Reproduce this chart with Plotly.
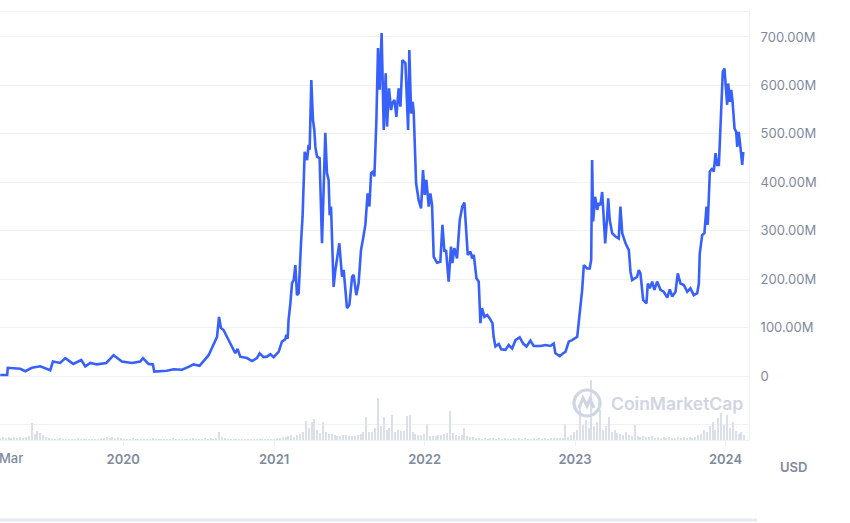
import pandas as pd
import plotly.graph_objects as go

# ---- price (market cap) series: decimal year, value in millions USD ----
price_year = [
    2019.183, 2019.229, 2019.233, 2019.316, 2019.349, 2019.393, 2019.449, 2019.515, 2019.533, 2019.581,
    2019.615, 2019.668, 2019.721, 2019.748, 2019.781, 2019.825, 2019.887, 2019.936, 2019.991, 2020.058,
    2020.113, 2020.131, 2020.168, 2020.197, 2020.206, 2020.290, 2020.334, 2020.390, 2020.434, 2020.467,
    2020.507, 2020.534, 2020.567, 2020.589, 2020.611, 2020.623, 2020.636, 2020.649, 2020.666, 2020.689,
    2020.711, 2020.744, 2020.759, 2020.777, 2020.822, 2020.855, 2020.888, 2020.906, 2020.932, 2020.955,
    2020.977, 2020.999, 2021.032, 2021.054, 2021.076, 2021.083, 2021.092, 2021.098, 2021.110, 2021.121,
    2021.132, 2021.143, 2021.154, 2021.165, 2021.181, 2021.191, 2021.205, 2021.221, 2021.231, 2021.238,
    2021.249, 2021.260, 2021.269, 2021.276, 2021.287, 2021.304, 2021.320, 2021.331, 2021.342, 2021.353,
    2021.364, 2021.371, 2021.380, 2021.397, 2021.409, 2021.435, 2021.453, 2021.464, 2021.486, 2021.502,
    2021.520, 2021.530, 2021.548, 2021.563, 2021.579, 2021.593, 2021.608, 2021.623, 2021.635, 2021.646,
    2021.659, 2021.668, 2021.681, 2021.692, 2021.703, 2021.716, 2021.730, 2021.743, 2021.752, 2021.765,
    2021.779, 2021.787, 2021.801, 2021.814, 2021.829, 2021.841, 2021.854, 2021.874, 2021.892, 2021.900,
    2021.912, 2021.922, 2021.929, 2021.945, 2021.962, 2021.978, 2021.991, 2022.002, 2022.013, 2022.029,
    2022.040, 2022.051, 2022.062, 2022.084, 2022.106, 2022.120, 2022.133, 2022.144, 2022.161, 2022.177,
    2022.186, 2022.199, 2022.217, 2022.235, 2022.252, 2022.266, 2022.288, 2022.306, 2022.317, 2022.328,
    2022.346, 2022.361, 2022.372, 2022.383, 2022.399, 2022.417, 2022.434, 2022.452, 2022.460, 2022.472,
    2022.494, 2022.510, 2022.538, 2022.560, 2022.583, 2022.605, 2022.633, 2022.656, 2022.678, 2022.704,
    2022.726, 2022.771, 2022.804, 2022.837, 2022.859, 2022.870, 2022.899, 2022.922, 2022.937, 2022.959,
    2022.981, 2023.015, 2023.032, 2023.048, 2023.059, 2023.081, 2023.098, 2023.108, 2023.114, 2023.121,
    2023.134, 2023.148, 2023.158, 2023.169, 2023.181, 2023.191, 2023.201, 2023.214, 2023.221, 2023.231,
    2023.247, 2023.269, 2023.291, 2023.302, 2023.314, 2023.336, 2023.358, 2023.369, 2023.380, 2023.413,
    2023.424, 2023.435, 2023.453, 2023.475, 2023.484, 2023.497, 2023.513, 2023.528, 2023.546, 2023.568,
    2023.590, 2023.613, 2023.630, 2023.646, 2023.668, 2023.683, 2023.701, 2023.723, 2023.746, 2023.767,
    2023.789, 2023.812, 2023.823, 2023.829, 2023.845, 2023.860, 2023.874, 2023.882, 2023.896, 2023.912,
    2023.922, 2023.934, 2023.945, 2023.956, 2023.967, 2023.982, 2023.993, 2024.002, 2024.011, 2024.018,
    2024.029, 2024.038, 2024.047, 2024.060, 2024.071, 2024.078, 2024.088, 2024.100, 2024.111, 2024.118,
]
price_musd = [
    2, 2, 17, 15, 10, 17, 20, 12, 30, 27,
    37, 25, 33, 20, 27, 24, 27, 43, 30, 27,
    30, 37, 25, 24, 9, 11, 14, 13, 19, 24,
    21, 31, 43, 58, 74, 81, 122, 99, 95, 81,
    68, 47, 56, 40, 37, 31, 37, 47, 39, 40,
    45, 39, 50, 71, 76, 85, 77, 116, 150, 192,
    198, 229, 167, 171, 277, 329, 463, 446, 477, 467,
    611, 529, 508, 473, 453, 450, 274, 391, 502, 419,
    405, 332, 350, 184, 219, 274, 205, 219, 140, 147,
    205, 209, 167, 191, 260, 284, 312, 377, 350, 419,
    422, 412, 525, 677, 591, 708, 508, 625, 515, 594,
    549, 563, 570, 535, 594, 556, 652, 646, 508, 673,
    542, 566, 546, 398, 363, 346, 425, 374, 405, 350,
    377, 353, 246, 234, 236, 312, 257, 260, 195, 267,
    233, 264, 243, 322, 350, 358, 250, 257, 243, 250,
    202, 195, 109, 140, 122, 126, 119, 109, 81, 61,
    66, 55, 54, 64, 57, 74, 80, 67, 61, 73,
    62, 62, 64, 62, 67, 47, 41, 47, 50, 71,
    74, 81, 129, 178, 229, 222, 222, 240, 446, 319,
    370, 343, 357, 353, 380, 322, 274, 329, 367, 322,
    295, 288, 284, 350, 295, 274, 260, 215, 198, 205,
    219, 212, 157, 150, 191, 181, 195, 178, 195, 178,
    174, 162, 179, 164, 174, 212, 191, 188, 174, 181,
    167, 171, 191, 253, 291, 295, 350, 312, 422, 429,
    422, 460, 436, 436, 529, 628, 635, 591, 560, 604,
    566, 591, 566, 511, 504, 473, 504, 470, 436, 463,
]

# ---- weekly trading volume (relative units), starting 2019-03-08 ----
volume_start = "2019-03-08"
volume_vals = [
    2, 3, 2, 3, 2, 3, 2, 3, 2, 3,
    4, 17, 6, 9, 7, 5, 3, 2,
    1, 1, 1, 2, 1, 1, 1, 1, 1, 2, 1, 1, 1, 1, 1, 1,
    1, 2, 2, 3, 2, 3, 2, 3, 2, 1,
    1, 1, 2, 1, 1, 1, 1, 1, 1, 2, 1, 1, 1, 1, 1, 1, 2, 1, 1, 1, 1, 1, 1,
    2, 1, 1, 1, 2, 1, 2, 1, 2, 8, 3, 2,
    1, 1, 1, 1, 1, 1, 1, 1, 1, 1, 1, 1, 1, 1, 1, 1, 1, 2, 2,
    3, 3, 4, 5, 3, 5, 6, 8, 19, 12, 18, 21, 10, 7, 18, 8, 6, 6, 5, 4,
    4, 5, 5, 4, 4, 4, 5, 6, 8, 23, 8, 8, 12, 42, 14, 23, 10, 12, 25, 8,
    10, 9, 9, 24, 25, 8, 6, 5, 5, 6, 16, 4, 4, 4, 5, 5, 6, 7, 29, 7,
    5, 4, 5, 12, 4, 3, 3, 2,
    2, 1, 2, 1, 2, 2, 1, 2, 1, 2, 1, 1, 2, 1, 2, 1, 2, 1, 1, 2, 1, 2, 1, 2, 1, 2,
    2, 2, 2, 2, 16, 3, 5, 8, 10, 32, 15, 20, 12, 60, 14, 18, 30, 10, 14, 23,
    8, 10, 7, 6, 5, 8, 5, 4, 15, 4, 3, 4, 3, 3, 4, 2, 3, 2, 3, 2,
    3, 2, 2, 3, 2, 3, 2, 3, 2, 3, 5, 6, 10, 8, 14, 18, 10, 22, 27, 15,
    25, 12, 18, 9, 6, 8, 5,
]

# ---- axes ----
x_start, x_end = "2019-03-08", "2024-02-27"
year_ticks = ["2020-01-01", "2021-01-01", "2022-01-01", "2023-01-01", "2024-01-01"]
year_labels = ["2020", "2021", "2022", "2023", "2024"]
y_tickvals = [-100, 0, 100, 200, 300, 400, 500, 600, 700]
y_ticktext = ["", "0", "100.00M", "200.00M", "300.00M", "400.00M", "500.00M", "600.00M", "700.00M"]


def year_to_date(y):
    return pd.Timestamp("2020-01-01") + pd.Timedelta(days=(y - 2020) * 365.25)


price_dates = [year_to_date(y) for y in price_year]
volume_dates = pd.date_range(volume_start, periods=len(volume_vals), freq="7D")

LABEL = "#808A9D"
GRID = "#EFF2F5"
WM = "#CFD5E2"

fig = go.Figure()
fig.add_trace(go.Bar(
    x=volume_dates, y=volume_vals, yaxis="y2",
    marker=dict(color="#DADFEA", line=dict(width=0)),
    width=3 * 86400000, hoverinfo="skip", showlegend=False,
))
fig.add_trace(go.Scatter(
    x=price_dates, y=price_musd, mode="lines",
    line=dict(color="#3861FB", width=2.6), showlegend=False,
))

fig.update_layout(
    width=850, height=523,
    margin=dict(l=0, r=101, t=12, b=83),
    paper_bgcolor="white", plot_bgcolor="white",
    font=dict(family="Inter", color=LABEL),
    bargap=0,
    xaxis=dict(
        type="date", range=[x_start, x_end],
        tickvals=year_ticks, ticktext=year_labels,
        tickfont=dict(size=13, color=LABEL, weight=600),
        ticks="outside", ticklen=5, tickcolor=GRID,
        showgrid=False, zeroline=False, automargin=False,
        showline=True, linecolor=GRID, linewidth=1, mirror=True,
        ticklabelstandoff=2,
    ),
    yaxis=dict(
        side="right", range=[-132.1, 751.6],
        tickvals=y_tickvals, ticktext=y_ticktext,
        tickfont=dict(size=13, color=LABEL),
        showgrid=True, gridcolor=GRID, gridwidth=1, zeroline=False, automargin=False,
        showline=True, linecolor=GRID, linewidth=1, mirror=True,
        ticks="", ticklabelstandoff=8,
    ),
    yaxis2=dict(
        overlaying="y", range=[0, 428], visible=False, fixedrange=True,
    ),
)

# watermark logo: ring + M-wave
cx, cy = 587 / 749, (440 - 403) / 428
fig.add_shape(type="circle", xref="paper", yref="paper", xsizemode="pixel", ysizemode="pixel",
              xanchor=cx, yanchor=cy, x0=-13, x1=13, y0=-13, y1=13,
              line=dict(color=WM, width=3.2), layer="above")
fig.add_shape(type="path", xref="paper", yref="paper", xsizemode="pixel", ysizemode="pixel",
              xanchor=cx, yanchor=cy,
              path="M -8 -5 L -4 5 L 0 -3 L 3 4 L 7 -5",
              line=dict(color=WM, width=3.2), layer="above")
fig.add_annotation(x=609 / 749, y=cy, xref="paper", yref="paper", xanchor="left", yanchor="middle",
                   text="CoinMarketCap", showarrow=False,
                   font=dict(family="Inter", size=17.5, color=WM, weight=600))

# partial first tick label and currency label
fig.add_annotation(x=0, y=(440 - 458) / 428, xref="paper", yref="paper", xanchor="left", yanchor="middle",
                   xshift=-3, text="Mar", showarrow=False,
                   font=dict(family="Inter", size=13, color=LABEL, weight=500))
fig.add_annotation(x=793 / 749, y=(440 - 467) / 428, xref="paper", yref="paper", xanchor="center",
                   yanchor="middle", text="USD", showarrow=False,
                   font=dict(family="Inter", size=13, color=LABEL, weight=600))

# bottom separator bar
fig.add_shape(type="line", xref="paper", yref="paper", x0=0, x1=757 / 749,
              y0=(440 - 520) / 428, y1=(440 - 520) / 428,
              line=dict(color="#E6E9F5", width=3))

fig.write_html(
    "out.html",
    config={"displayModeBar": False},
    post_script="document.body.style.margin='0';document.body.style.overflow='hidden';",
)
